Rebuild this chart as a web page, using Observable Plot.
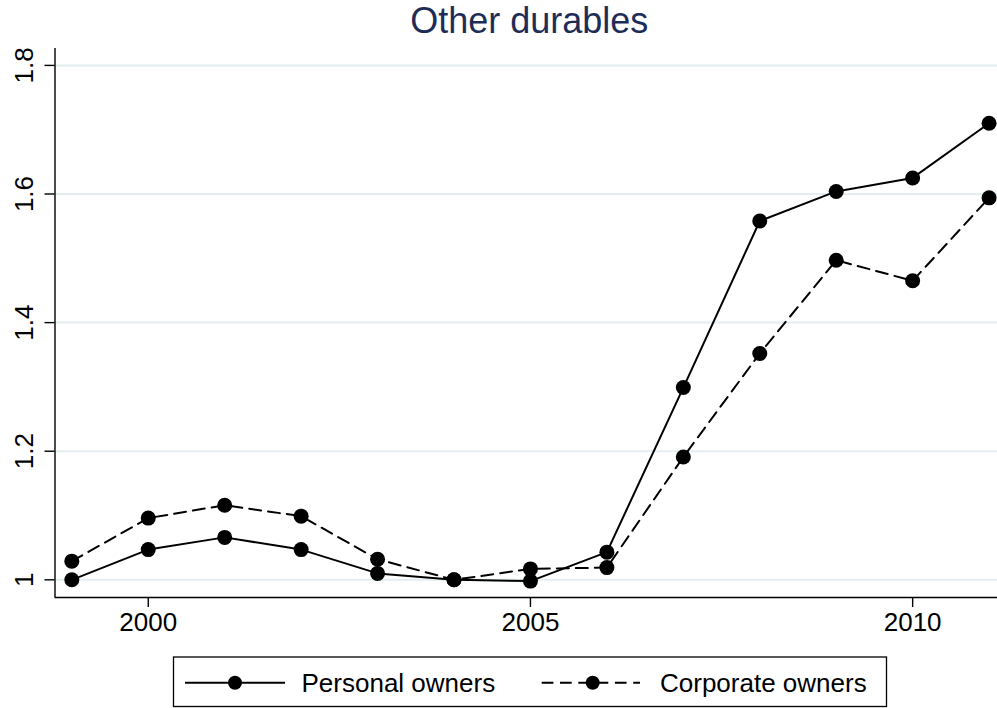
<!DOCTYPE html>
<html>
<head>
<meta charset="utf-8">
<script src="https://cdn.jsdelivr.net/npm/d3@7"></script>
<script src="https://cdn.jsdelivr.net/npm/@observablehq/plot@0.6"></script>
<style>
  html, body { margin: 0; padding: 0; background: #fff; }
  #chart { width: 997px; height: 708px; position: relative; }
  svg { display: block; }
</style>
</head>
<body>
<div id="chart"></div>
<script>
const titleText = "Other durables";
const years = [1999, 2000, 2001, 2002, 2003, 2004, 2005, 2006, 2007, 2008, 2009, 2010, 2011];
const personal = [1.000, 1.047, 1.066, 1.047, 1.010, 1.000, 0.998, 1.043, 1.299, 1.558, 1.604, 1.625, 1.710];
const corporate = [1.029, 1.096, 1.116, 1.099, 1.032, 1.000, 1.017, 1.019, 1.191, 1.352, 1.497, 1.465, 1.594];
const seriesNames = ["Personal owners", "Corporate owners"];
const xTicks = [2000, 2005, 2010];
const yTicks = [1.0, 1.2, 1.4, 1.6, 1.8];
const yTickLabels = ["1", "1.2", "1.4", "1.6", "1.8"];

const FONT = "'Liberation Sans', Arial, Helvetica, sans-serif";
const xDomain = [1998.78, 2011.11];
const yDomain = [0.9725, 1.8263];

const pData = years.map((y, i) => ({year: y, value: personal[i]}));
const cData = years.map((y, i) => ({year: y, value: corporate[i]}));
const dash = "12,7";

const plot = Plot.plot({
  width: 997,
  height: 640,
  marginLeft: 54.5,
  marginRight: 0,
  marginTop: 48,
  marginBottom: 43,
  x: {domain: xDomain},
  y: {domain: yDomain},
  style: {fontFamily: FONT, background: "white", color: "black"},
  marks: [
    Plot.ruleY(yTicks, {y: d => d, stroke: "#e4eef1", strokeWidth: 2}),
    Plot.ruleX([xDomain[0]], {stroke: "black", strokeWidth: 1.4}),
    Plot.ruleY([yDomain[0]], {stroke: "black", strokeWidth: 1.4}),
    Plot.axisY(yTicks, {tickSize: 10, tickFormat: () => "", stroke: "black", strokeWidth: 1.4, label: null}),
    Plot.text(yTicks, {
      y: d => d, text: (d, i) => yTickLabels[i], frameAnchor: "left", dx: -22,
      rotate: -90, textAnchor: "middle", lineAnchor: "bottom", fontSize: 26, fill: "black"
    }),
    Plot.axisX(xTicks, {tickSize: 10, tickPadding: 5, tickFormat: d => String(d), fontSize: 26, stroke: "black", strokeWidth: 1.4, label: null}),
    Plot.line(pData, {x: "year", y: "value", stroke: "black", strokeWidth: 2}),
    Plot.line(cData, {x: "year", y: "value", stroke: "black", strokeWidth: 2, strokeDasharray: dash}),
    Plot.dot(pData, {x: "year", y: "value", r: 7.5, fill: "black", stroke: "none"}),
    Plot.dot(cData, {x: "year", y: "value", r: 7.5, fill: "black", stroke: "none"}),
    Plot.text([titleText], {
      frameAnchor: "top", dy: -15.3, dx: 3, lineAnchor: "bottom", textAnchor: "middle",
      fontSize: 36, fill: "#1e2d58", text: d => d
    })
  ]
});
document.getElementById("chart").appendChild(plot);

// Legend below the plot SVG
const leg = d3.create("svg").attr("width", 997).attr("height", 68)
  .style("font-family", FONT);
leg.append("rect").attr("x", 173.5).attr("y", 17).attr("width", 713).attr("height", 49.5)
  .attr("fill", "white").attr("stroke", "black").attr("stroke-width", 1.3);
const ly = 42.7;
const items = [
  {x1: 185, x2: 285, cx: 235, tx: 301.5, dash: null},
  {x1: 541.7, x2: 640, cx: 592.7, tx: 660, dash: "11.7,6.6"}
];
items.forEach((it, i) => {
  leg.append("line").attr("x1", it.x1).attr("x2", it.x2).attr("y1", ly).attr("y2", ly)
    .attr("stroke", "black").attr("stroke-width", 2)
    .attr("stroke-dasharray", it.dash);
  leg.append("circle").attr("cx", it.cx).attr("cy", ly).attr("r", 7).attr("fill", "black");
  leg.append("text").attr("x", it.tx).attr("y", 51.7).attr("font-size", 26)
    .attr("fill", "black").text(seriesNames[i]);
});
document.getElementById("chart").appendChild(leg.node());
</script>
</body>
</html>
